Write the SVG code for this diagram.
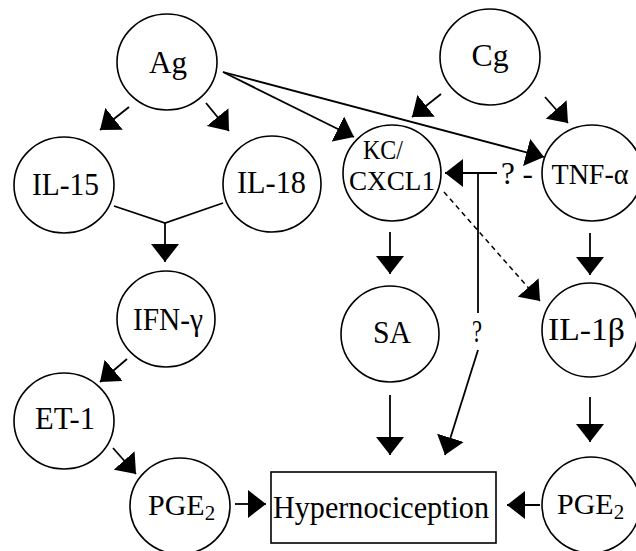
<svg xmlns="http://www.w3.org/2000/svg" width="636" height="551" viewBox="0 0 636 551">
<style>
.n{fill:#fff;stroke:#000;stroke-width:1.6}
.t{font-family:"Liberation Serif","Times New Roman",serif;font-size:32px;fill:#000;text-anchor:middle}
.s{font-family:"Liberation Serif","Times New Roman",serif;font-size:30px;fill:#000;text-anchor:start}
.e{fill:none;stroke:#000;stroke-width:1.8}
.d{stroke-dasharray:5 4;stroke-width:1.5}
</style>
<defs>
<marker id="ah" markerUnits="userSpaceOnUse" markerWidth="19" markerHeight="28" refX="18" refY="14" orient="auto">
<path d="M0,0 L18,14 L0,28 Z" fill="#000"/>
</marker>
</defs>
<rect width="636" height="551" fill="#fff"/>
<g id="connectors">
<line class="e" x1="129" y1="107" x2="100" y2="130" marker-end="url(#ah)"/>
<line class="e" x1="206" y1="103" x2="229" y2="131" marker-end="url(#ah)"/>
<polyline class="e" points="114,206 165,223 223,203"/>
<line class="e" x1="165" y1="223" x2="165" y2="262" marker-end="url(#ah)"/>
<line class="e" x1="223" y1="72" x2="354" y2="137" marker-end="url(#ah)"/>
<line class="e" x1="223" y1="72" x2="544" y2="157" marker-end="url(#ah)"/>
<line class="e" x1="441" y1="94" x2="412" y2="117" marker-end="url(#ah)"/>
<line class="e" x1="545" y1="97" x2="568" y2="123" marker-end="url(#ah)"/>
<line class="e" x1="127" y1="359" x2="100" y2="382" marker-end="url(#ah)"/>
<line class="e" x1="113" y1="448" x2="136" y2="474" marker-end="url(#ah)"/>
<line class="e" x1="235" y1="504" x2="266" y2="504" marker-end="url(#ah)"/>
<line class="e" x1="540" y1="505" x2="507" y2="505" marker-end="url(#ah)"/>
<line class="e" x1="390" y1="232" x2="390" y2="274" marker-end="url(#ah)"/>
<line class="e" x1="590" y1="233" x2="590" y2="275" marker-end="url(#ah)"/>
<line class="e" x1="390" y1="395" x2="390" y2="455" marker-end="url(#ah)"/>
<line class="e" x1="590" y1="397" x2="590" y2="442" marker-end="url(#ah)"/>
<line class="e" x1="497" y1="173" x2="445" y2="173" marker-end="url(#ah)"/>
<line class="e" x1="478" y1="173" x2="478" y2="313"/>
<line class="e" x1="478" y1="350" x2="445" y2="455" marker-end="url(#ah)"/>
<line class="e d" x1="444" y1="192" x2="540" y2="301" marker-end="url(#ah)"/>
<text class="t" x="477" y="342" textLength="10" lengthAdjust="spacingAndGlyphs">?</text>
<text class="t" x="517" y="184" textLength="32" lengthAdjust="spacingAndGlyphs">? -</text>
</g>
<g id="Ag"><ellipse class="n" cx="167" cy="62" rx="50" ry="48"/><text class="t" x="168" y="73" textLength="38" lengthAdjust="spacingAndGlyphs">Ag</text></g>
<g id="Cg"><ellipse class="n" cx="490" cy="57" rx="50" ry="48"/><text class="t" x="490" y="66" textLength="37" lengthAdjust="spacingAndGlyphs">Cg</text></g>
<g id="IL-15"><ellipse class="n" cx="64" cy="185" rx="50" ry="48"/><text class="t" x="65.5" y="195" textLength="67" lengthAdjust="spacingAndGlyphs">IL-15</text></g>
<g id="IL-18"><ellipse class="n" cx="272" cy="184" rx="49" ry="48"/><text class="t" x="271.5" y="193" textLength="69" lengthAdjust="spacingAndGlyphs">IL-18</text></g>
<g id="KC"><ellipse class="n" cx="392" cy="173" rx="49" ry="48"/><text class="t" x="383" y="159" style="font-size:27px" textLength="40" lengthAdjust="spacingAndGlyphs">KC/</text><text class="t" x="392" y="190" style="font-size:27px" textLength="86" lengthAdjust="spacingAndGlyphs">CXCL1</text></g>
<g id="TNF"><ellipse class="n" cx="592" cy="173" rx="50" ry="48"/><text class="t" x="590" y="184" style="font-size:30px" textLength="77" lengthAdjust="spacingAndGlyphs">TNF-α</text></g>
<g id="IFN"><ellipse class="n" cx="166" cy="319" rx="49" ry="48"/><text class="t" x="168" y="330" textLength="70" lengthAdjust="spacingAndGlyphs">IFN-γ</text></g>
<g id="SA"><ellipse class="n" cx="390" cy="334" rx="49" ry="48"/><text class="t" x="392" y="343" textLength="38" lengthAdjust="spacingAndGlyphs">SA</text></g>
<g id="IL-1b"><ellipse class="n" cx="590" cy="330" rx="48" ry="47"/><text class="t" x="586.5" y="340" textLength="77" lengthAdjust="spacingAndGlyphs">IL-1β</text></g>
<g id="ET-1"><ellipse class="n" cx="64" cy="421" rx="50" ry="48"/><text class="t" x="65" y="429" textLength="60" lengthAdjust="spacingAndGlyphs">ET-1</text></g>
<g id="PGE2-left"><ellipse class="n" cx="180" cy="506" rx="50" ry="48"/><text class="s" x="148" y="515">PGE<tspan dy="5" style="font-size:21px">2</tspan></text></g>
<g id="PGE2-right"><ellipse class="n" cx="591" cy="505" rx="49" ry="48"/><text class="s" x="557" y="514">PGE<tspan dy="5" style="font-size:21px">2</tspan></text></g>
<g id="Hypernociception"><rect class="n" x="271" y="472" width="225" height="71"/><text class="t" x="381" y="518" textLength="216" lengthAdjust="spacingAndGlyphs">Hypernociception</text></g>
</svg>
